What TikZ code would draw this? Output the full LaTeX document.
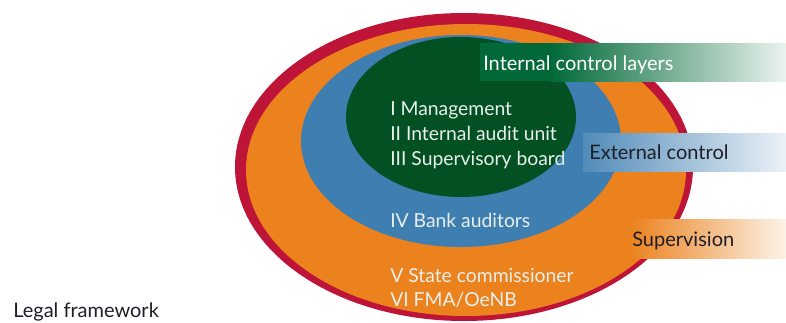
\documentclass[tikz,border=0pt]{standalone}
\usepackage{fontspec}
\setmainfont{Lato}
\definecolor{legalred}{RGB}{190, 20, 55}
\definecolor{supervorange}{RGB}{235, 130, 30}
\definecolor{extblue}{RGB}{62, 126, 176}
\definecolor{intgreen}{RGB}{3, 80, 35}
\definecolor{bandgreen}{RGB}{0, 105, 55}
\definecolor{lighttext}{RGB}{232, 240, 236}
\definecolor{darktext}{RGB}{30, 30, 40}
\tikzset{
	layertext/.style={anchor=base west, inner sep=0pt, text=lighttext, font=\fontsize{14.5}{17}\selectfont},
	bandtext/.style={anchor=base west, inner sep=0pt, font=\fontsize{15}{18}\selectfont},
}

\begin{document}
\begin{tikzpicture}[x=0.75pt, y=-0.75pt]
			\useasboundingbox (0, 0) rectangle (786, 322);
			\clip (0, 0) rectangle (786, 322);
			% layers
			\fill [legalred] (464, 167) ellipse [x radius=229, y radius=154];
			\fill [supervorange] (466, 170) ellipse [x radius=220, y radius=146];
			\fill [extblue] (461, 141) ellipse [x radius=160, y radius=106];
			\fill [intgreen] (461, 117) ellipse [x radius=115, y radius=80];
			% bands
			\fill [bandgreen] (480, 43) rectangle (550, 81);
			\shade [left color=bandgreen, right color=bandgreen!8] (550, 43) rectangle (786, 81);
			\shade [left color=extblue!90, right color=extblue!10] (583, 133) rectangle (786, 171);
			\shade [left color=supervorange, right color=supervorange!10] (630, 219) rectangle (786, 258);
			% labels
			\node [bandtext, text=white] (internal) at (483, 70) {Internal control layers};
			\node [bandtext, text=darktext] (external) at (589, 159) {External control};
			\node [bandtext, text=darktext] (supervision) at (632, 246) {Supervision};
			\node [bandtext, text=darktext] (legal) at (13, 317) {Legal framework};
			\node [layertext] (mgmt) at (390, 115) {I Management};
			\node [layertext] (audit) at (390, 140) {II Internal audit unit};
			\node [layertext] (board) at (390, 165) {III Supervisory board};
			\node [layertext] (bank) at (390, 227) {IV Bank auditors};
			\node [layertext] (state) at (390, 282) {V State commissioner};
			\node [layertext] (fma) at (390, 306) {VI FMA/OeNB};
		\end{tikzpicture}
\end{document}
